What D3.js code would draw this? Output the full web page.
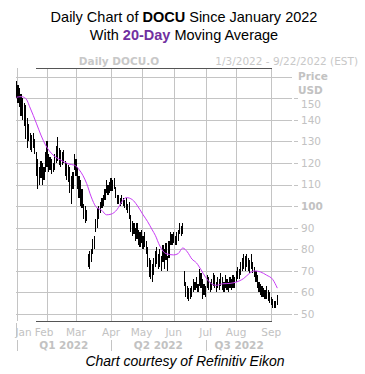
<!DOCTYPE html>
<html>
<head>
<meta charset="utf-8">
<script src="https://cdn.jsdelivr.net/npm/d3@7"></script>
<style>
  body { margin: 0; background: #fff; }
  svg { display: block; }
</style>
</head>
<body>
<script>
// daily high / low, one entry per trading day from Jan 3 2022
const highs = [158,156,155,152,150,148,147,141,138,134,133,134,131,125,122,118,121,120,118,125,
  130,124,123,122,120,124,128,132,127,126,125,126,121,120,119,118,114,116,124,122,
  118,114,112,108,101,100,98,78,79,80,85,86,94,99,100,102,104,105,108,112,
  110,111,113,112,113,109,105,105,104,105,104,103,104,101,102,96,93,92,90,92,
  89,88,89,86,88,84,81,76,75,73,76,79,81,78,80,77,82,80,83,77,
  84,88,87,88,86,88,89,92,91,92,70,65,63,62,62,63,66,65,67,64,
  71,69,66,64,63,68,67,65,66,69,68,65,67,66,69,67,65,68,66,65,
  67,66,68,67,70,72,71,74,76,78,77,78,76,75,78,74,72,70,68,65,
  64,63,62,61,63,61,60,58,57,56,56,59];
const lows = [150,148,146,142,140,137,131,127,130,126,125,127,124,114,108,110,113,110,112,116,
  118,116,117,115,116,117,120,121,119,118,119,120,114,112,111,106,101,108,117,114,
  108,104,100,99,94,92,93,72,71,74,78,80,88,90,94,97,99,100,103,106,
  105,106,107,107,108,104,101,101,100,101,100,99,98,97,94,88,86,87,84,85,
  82,81,83,80,81,78,72,67,66,65,68,72,73,71,72,70,74,71,75,70,
  76,82,82,83,82,82,84,87,86,87,63,58,57,56,57,58,60,61,62,60,
  63,62,57,59,58,62,61,60,61,63,62,60,62,61,63,61,60,62,61,60,
  62,61,62,62,65,66,66,68,70,71,70,72,70,69,71,69,67,65,62,60,
  59,58,58,57,57,56,55,54,53,53,53,54];

// 20-day moving average: trading-day index / value
const maDays = [0,3,6,9,13,16,19,24,29,34,38,41,46,49,52,56,59,62,66,69,72,76,79,83,86,89,91,94,98,103,
  106,109,112,115,118,121,124,127,131,135,140,144,149,153,156,160,164,168,171];
const maValues = [150.5,150.8,150,145.5,138.5,133,128.4,123.7,121.4,119.6,119,117,110.5,104.3,99.8,98,96,96.3,98.5,102,
  104,103,100.5,96,92.8,89,86.5,81.5,78,77.4,78,80.6,78.8,75.5,73.7,70.5,67,64.5,63.3,64,64.2,64.8,66.5,69,70,69.5,68,66,62];

const months = ["Jan","Feb","Mar","Apr","May","Jun","Jul","Aug","Sep"];
const monthStarts = [0,20,39,62,82,103,124,144,167];
const quarters = ["Q1 2022","Q2 2022","Q3 2022"];
const quarterStarts = [0,62,124];
const quarterMids = [31,93,146];
const priceTicks = [50,60,70,80,90,100,110,120,130,140,150];

const W = 365, H = 374;
const gridColor = "#c4c4c4", labelColor = "#c2c2c2";

const x = d3.scaleLinear().domain([0, 167]).range([16.5, 271.2]);
const y = d3.scaleLinear().domain([50, 160]).range([314, 76.8]);

const svg = d3.select("body").append("svg")
  .attr("width", W)
  .attr("height", H)
  .style("font-family", "'DejaVu Sans', sans-serif");

// title
const title = svg.append("g")
  .attr("font-family", "'Liberation Sans', Arial, sans-serif")
  .attr("font-size", 14.5)
  .attr("text-anchor", "middle");
const t1 = title.append("text").attr("x", 184).attr("y", 22);
t1.append("tspan").text("Daily Chart of ");
t1.append("tspan").attr("font-weight", "bold").text("DOCU");
t1.append("tspan").text(" Since January 2022");
const t2 = title.append("text").attr("x", 184).attr("y", 40);
t2.append("tspan").text("With ");
t2.append("tspan").attr("font-weight", "bold").attr("fill", "#7030a0").text("20-Day");
t2.append("tspan").text(" Moving Average");

// header
svg.append("text").attr("x", 119).attr("y", 64.5)
  .attr("text-anchor", "middle").attr("font-size", 10.5).attr("font-weight", "bold")
  .attr("fill", "#c8c8c8").text("Daily DOCU.O");
svg.append("text").attr("x", 358).attr("y", 64.5)
  .attr("text-anchor", "end").attr("font-size", 10.5)
  .attr("fill", "#c8c8c8").text("1/3/2022 - 9/22/2022 (EST)");

// vertical grid at month starts
svg.append("g").selectAll("line")
  .data(monthStarts)
  .join("line")
    .attr("x1", d => Math.round(x(d)) + 0.5)
    .attr("x2", d => Math.round(x(d)) + 0.5)
    .attr("y1", 68).attr("y2", 321)
    .attr("stroke", gridColor);

// horizontal grid + price labels
const yAxis = svg.append("g");
yAxis.selectAll("line.grid")
  .data(priceTicks.concat([160]))
  .join("line")
    .attr("class", "grid")
    .attr("x1", 16).attr("x2", 292)
    .attr("y1", d => Math.round(y(d)) + 0.5)
    .attr("y2", d => Math.round(y(d)) + 0.5)
    .attr("stroke", gridColor);
yAxis.selectAll("line.dash")
  .data(priceTicks)
  .join("line")
    .attr("class", "dash")
    .attr("x1", 294).attr("x2", 298)
    .attr("y1", d => Math.round(y(d)) + 0.5)
    .attr("y2", d => Math.round(y(d)) + 0.5)
    .attr("stroke", gridColor);
yAxis.selectAll("text")
  .data(priceTicks)
  .join("text")
    .attr("x", 301)
    .attr("y", d => y(d) + (d === 150 ? 9.5 : 3.8))
    .attr("font-size", 10.5)
    .attr("font-weight", d => d === 100 ? "bold" : null)
    .attr("fill", labelColor)
    .text(d => d);
svg.append("text").attr("x", 298).attr("y", 79.5)
  .attr("font-size", 10.5).attr("font-weight", "bold").attr("fill", labelColor).text("Price");
svg.append("text").attr("x", 298).attr("y", 94)
  .attr("font-size", 10.5).attr("font-weight", "bold").attr("fill", labelColor).text("USD");

// dark rules above and below the plot
svg.append("line").attr("x1", 36).attr("x2", 272).attr("y1", 68.5).attr("y2", 68.5).attr("stroke", "#555");
svg.append("line").attr("x1", 36).attr("x2", 272).attr("y1", 321.5).attr("y2", 321.5).attr("stroke", "#555");

// price bars
svg.append("g").selectAll("line")
  .data(highs.map((h, i) => ({i, h, l: lows[i]})))
  .join("line")
    .attr("x1", d => x(d.i)).attr("x2", d => x(d.i))
    .attr("y1", d => y(d.h)).attr("y2", d => y(d.l))
    .attr("stroke", "#000")
    .attr("stroke-width", 1.2)
    .attr("shape-rendering", "crispEdges");

// moving average
const ma = d3.line()
  .x(d => x(d[0]))
  .y(d => y(d[1]))
  .curve(d3.curveMonotoneX);
svg.append("path")
  .datum(maDays.map((d, i) => [d, maValues[i]]))
  .attr("d", ma)
  .attr("fill", "none")
  .attr("stroke", "#c83cf5")
  .attr("stroke-width", 1);

// month labels
svg.append("g").selectAll("text")
  .data(months)
  .join("text")
    .attr("x", (d, i) => i === 0 ? x(monthStarts[i]) - 1 : x(monthStarts[i]) - (i === 1 ? 3 : 0))
    .attr("y", 336)
    .attr("text-anchor", (d, i) => i === 0 ? "start" : "middle")
    .attr("font-size", 10.5)
    .attr("fill", labelColor)
    .text(d => d);

// quarter labels and separators
svg.append("line").attr("x1", 16.5).attr("x2", 16.5).attr("y1", 323).attr("y2", 337).attr("stroke", gridColor);
svg.append("g").selectAll("line")
  .data(quarterStarts)
  .join("line")
    .attr("x1", d => Math.round(x(d)) + 0.5)
    .attr("x2", d => Math.round(x(d)) + 0.5)
    .attr("y1", 340).attr("y2", 351)
    .attr("stroke", gridColor);
svg.append("g").selectAll("text")
  .data(quarters)
  .join("text")
    .attr("x", (d, i) => x(quarterMids[i]))
    .attr("y", 349)
    .attr("text-anchor", "middle")
    .attr("font-size", 10.5)
    .attr("font-weight", "bold")
    .attr("fill", labelColor)
    .text(d => d);

// footer
svg.append("text").attr("x", 185).attr("y", 366)
  .attr("text-anchor", "middle")
  .attr("font-family", "'Liberation Sans', Arial, sans-serif")
  .attr("font-size", 14)
  .attr("font-style", "italic")
  .text("Chart courtesy of Refinitiv Eikon");
</script>
</body>
</html>
